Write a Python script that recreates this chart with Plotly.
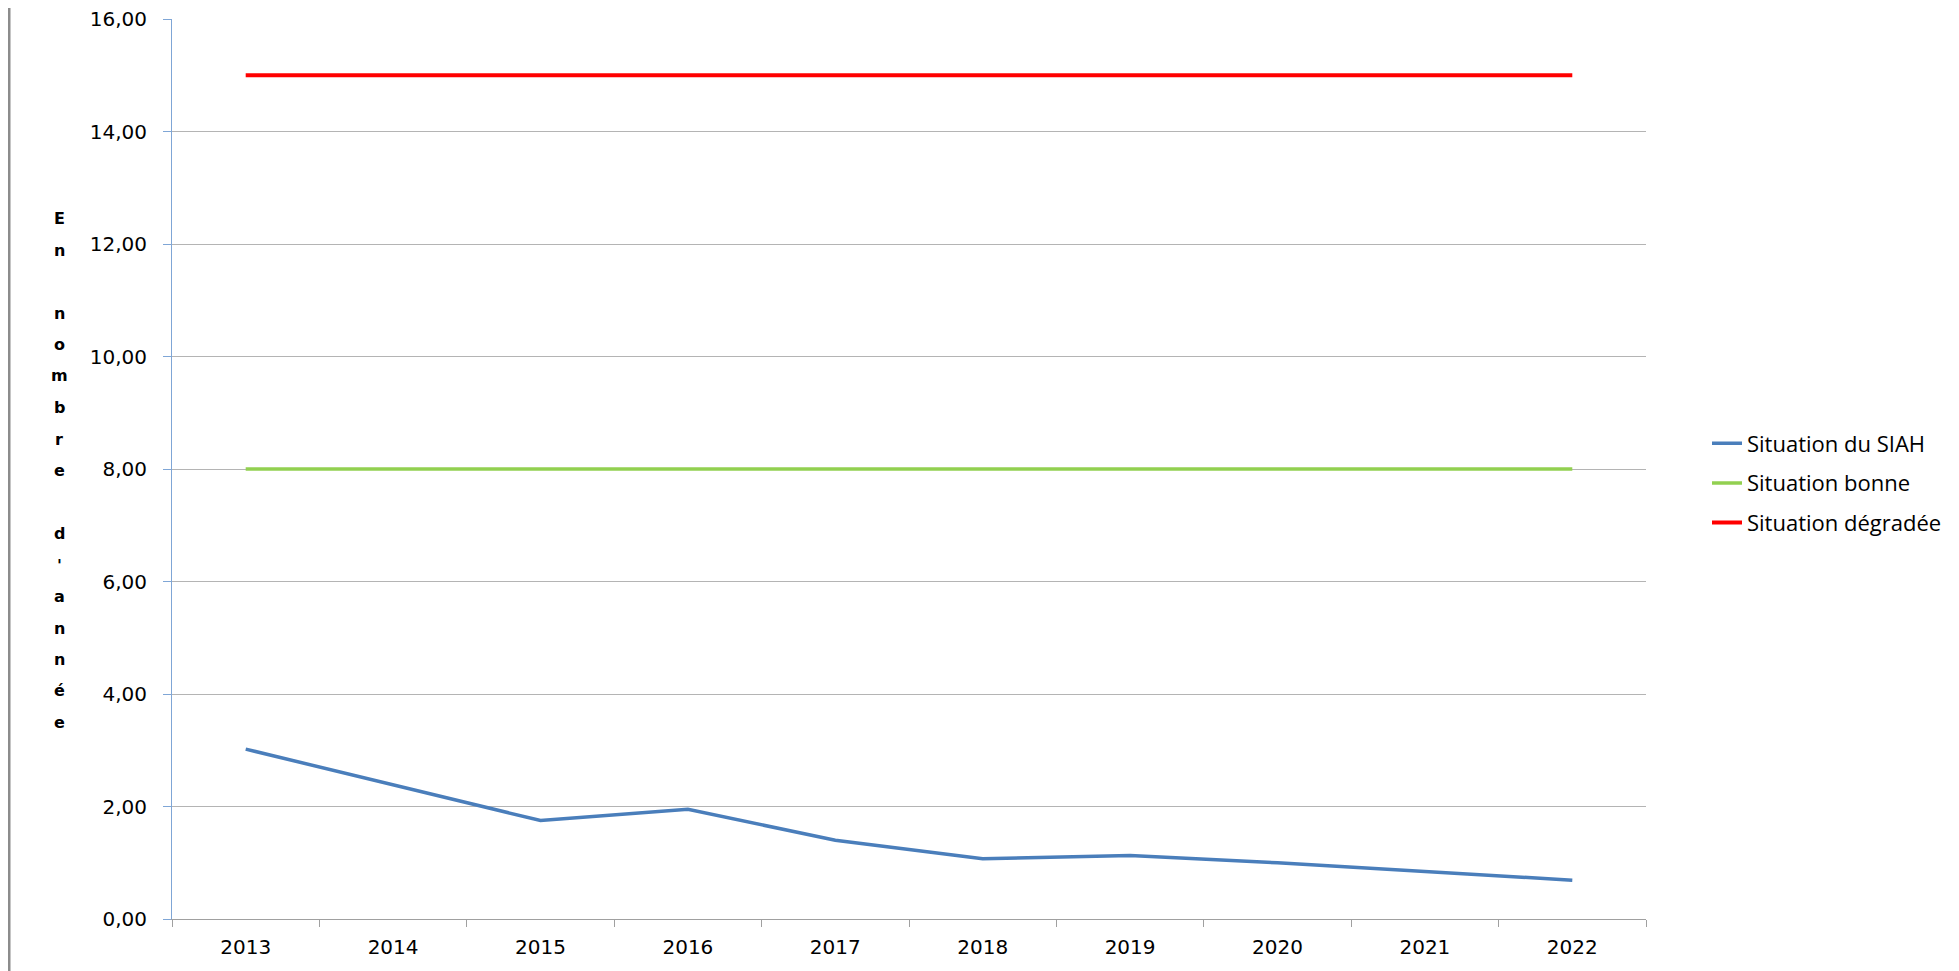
import plotly.graph_objects as go

annees = ["2013", "2014", "2015", "2016", "2017", "2018", "2019", "2020", "2021", "2022"]
situation_siah = [3.02, 2.38, 1.75, 1.95, 1.40, 1.07, 1.13, 1.00, 0.85, 0.69]
situation_bonne = [8, 8, 8, 8, 8, 8, 8, 8, 8, 8]
situation_degradee = [15, 15, 15, 15, 15, 15, 15, 15, 15, 15]

y_title_letters = ["E", "n", "", "n", "o", "m", "b", "r", "e", "", "d", "'", "a", "n", "n", "é", "e"]

W, H = 1959, 971
# page body adds an 8 px offset, margins account for it
L, R, T, B = 164, 321, 11, 60
plot_h = H - T - B
plot_w = W - L - R

fig = go.Figure()

fig.add_trace(go.Scatter(x=annees, y=situation_siah, name="Situation du SIAH", mode="lines",
                         line=dict(color="#4a7ebb", width=3.5), legendgroup="a"))
fig.add_trace(go.Scatter(x=annees, y=situation_bonne, name="Situation bonne", mode="lines",
                         line=dict(color="#92d050", width=3.5), legendgroup="b"))
fig.add_trace(go.Scatter(x=annees, y=situation_degradee, name="Situation dégradée", mode="lines",
                         line=dict(color="#ff0000", width=4), legendgroup="c"))

# vertical stacked y-axis title, one letter per line
for i, ch in enumerate(y_title_letters):
    if not ch:
        continue
    py = 210.5 + i * 31.5
    fig.add_annotation(text=ch, xref="paper", yref="paper",
                       x=(51 - L) / plot_w, y=(H - B - py) / plot_h,
                       showarrow=False, xanchor="center", yanchor="middle",
                       font=dict(family="DejaVu Sans", size=16, color="black", weight="bold"))

# grey border on the left of the page
fig.add_shape(type="line", xref="paper", yref="paper",
              x0=(1 - L) / plot_w, x1=(1 - L) / plot_w, y0=-B / plot_h, y1=(H - B) / plot_h,
              line=dict(color="#8c8c8c", width=3))

fig.update_layout(
    template="none",
    width=W, height=H,
    margin=dict(l=L, r=R, t=T, b=B, autoexpand=False),
    plot_bgcolor="white", paper_bgcolor="white",
    separators=", ",
    showlegend=True,
    legend=dict(x=(1699 - L) / plot_w, y=(H - B - 475) / plot_h, xanchor="left", yanchor="middle",
                font=dict(family="Open Sans", size=22, color="black"),
                tracegroupgap=8, bgcolor="rgba(0,0,0,0)"),
    xaxis=dict(type="category", range=[-0.5, 9.5], tickson="boundaries", ticks="outside", ticklen=7,
               tickcolor="#a0a0a0", showline=True, linecolor="#a0a0a0", linewidth=1,
               showgrid=False, automargin=False, ticklabelstandoff=10,
               tickfont=dict(family="DejaVu Sans", size=20, color="black")),
    yaxis=dict(range=[0, 16], dtick=2, tickformat=".2f", ticks="outside", ticklen=8,
               tickcolor="#7fa6d6", showline=True, linecolor="#7fa6d6", linewidth=1,
               showgrid=True, gridcolor="#b4b4b4", gridwidth=1, zeroline=False,
               automargin=False, ticklabelstandoff=12, ticklabeloverflow="allow",
               tickfont=dict(family="DejaVu Sans", size=20, color="black")),
)

fig.write_html("out.html")
